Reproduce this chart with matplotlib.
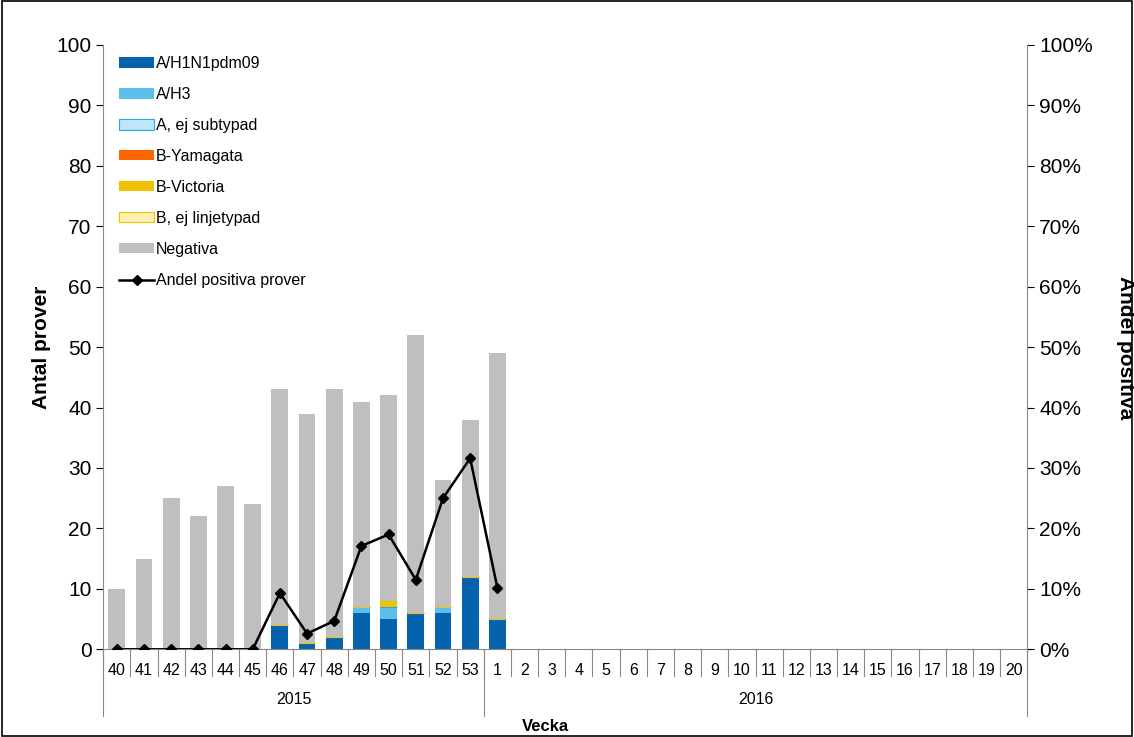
import matplotlib
matplotlib.use("Agg")
import matplotlib.pyplot as plt
import numpy as np

weeks = [str(w) for w in range(40, 54)] + [str(w) for w in range(1, 21)]
years = ["2015", "2016"]
h1n1 = [0, 0, 0, 0, 0, 0, 4, 1, 2, 6, 5, 6, 6, 12, 5]
h3 = [0, 0, 0, 0, 0, 0, 0, 0, 0, 1, 2, 0, 1, 0, 0]
a_ej = [0] * 15
b_yam = [0] * 15
b_vic = [0, 0, 0, 0, 0, 0, 0, 0, 0, 0, 1, 0, 0, 0, 0]
b_ej = [0] * 15
negativa = [10, 15, 25, 22, 27, 24, 39, 38, 41, 34, 34, 46, 21, 26, 44]
andel = [0, 0, 0, 0, 0, 0, 9.3, 2.6, 4.7, 17.1, 19.0, 11.5, 25.0, 31.6, 10.2]

plt.rcParams['font.family'] = ['Liberation Sans', 'DejaVu Sans']
fig = plt.figure(figsize=(11.34, 7.37), dpi=100)
ax = fig.add_axes([0.091, 0.119, 0.815, 0.82])
n = len(h1n1)
x = np.arange(n)
series = [(h1n1, '#0563AE', 'A/H1N1pdm09', None), (h3, '#5BC0EB', 'A/H3', None),
          (a_ej, '#BDE6F8', 'A, ej subtypad', '#2AA7E0'), (b_yam, '#FF6600', 'B-Yamagata', None),
          (b_vic, '#F2C200', 'B-Victoria', None), (b_ej, '#FFF0B3', 'B, ej linjetypad', '#F2C200'),
          (negativa, '#BFBFBF', 'Negativa', None)]
bottom = np.zeros(n)
handles = []
for vals, c, lab, ec in series:
    b = ax.bar(x, vals, 0.62, bottom=bottom, color=c, label=lab,
               edgecolor=ec if ec else c, linewidth=0.8 if ec else 0)
    bottom += np.array(vals)
    handles.append(b)
ax.set_xlim(-0.5, len(weeks) - 0.5)
ax.set_ylim(0, 100)
ax.set_yticks(range(0, 101, 10))
ax.tick_params(axis='y', labelsize=15, direction='out', length=5)
ax.set_xticks([])
ax.set_ylabel('Antal prover', fontsize=15, fontweight='bold')
for s in ['top', 'right']:
    ax.spines[s].set_visible(False)
ax.spines['left'].set_color('#888888')
ax.spines['bottom'].set_color('#888888')

ax2 = ax.twinx()
ax2.set_ylim(0, 100)
ax2.set_yticks(range(0, 101, 10))
ax2.set_yticklabels([f'{v}%' for v in range(0, 101, 10)])
ax2.tick_params(axis='y', labelsize=15, length=5)
ln, = ax2.plot(x, andel, color='black', marker='D', markersize=5, linewidth=1.8,
               label='Andel positiva prover')
for s in ['top', 'left', 'bottom']:
    ax2.spines[s].set_visible(False)
ax2.spines['right'].set_color('#888888')
ax2.set_ylabel('Andel positiva', fontsize=15, fontweight='bold', rotation=-90, labelpad=30)

# category axis labels
trans = ax.get_xaxis_transform()
for i, w in enumerate(weeks):
    ax.text(i, -0.022, w, transform=trans, ha='center', va='top', fontsize=11.5)
for i in range(len(weeks) + 1):
    ax.plot([i - 0.5, i - 0.5], [0, -0.045], transform=trans, color='#888888', lw=0.8, clip_on=False)
for b in [-0.5, 13.5, len(weeks) - 0.5]:
    ax.plot([b, b], [0, -0.11], transform=trans, color='#888888', lw=0.8, clip_on=False)
ax.text(6.5, -0.07, years[0], transform=trans, ha='center', va='top', fontsize=11.5)
ax.text(23.5, -0.07, years[1], transform=trans, ha='center', va='top', fontsize=11.5)
ax.text(0.478, -0.128, 'Vecka', transform=ax.transAxes, ha='center', va='center', fontsize=12, fontweight='bold')

ax.legend(handles + [ln], [h.get_label() for h in handles] + [ln.get_label()],
          loc='upper left', bbox_to_anchor=(0.005, 1.0), frameon=False, fontsize=11.5,
          handlelength=2.2, handleheight=0.6, handletextpad=0.1, labelspacing=1.0, borderaxespad=0.3)

fig.patches.append(plt.Rectangle((0.002, 0.002), 0.996, 0.996, transform=fig.transFigure,
                                 fill=False, edgecolor='black', lw=1.2))
fig.savefig('out.png', dpi=100)
